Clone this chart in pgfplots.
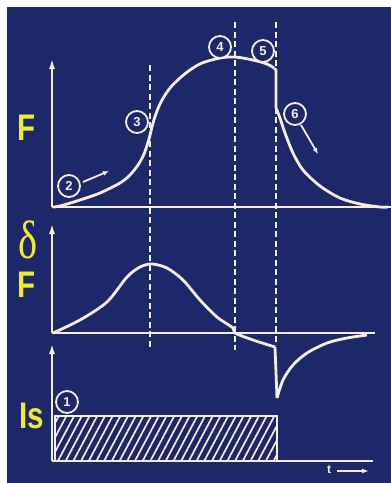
\documentclass[border=0pt]{standalone}
\usepackage{pgfplots}
\pgfplotsset{compat=1.18}
\usetikzlibrary{patterns.meta,arrows.meta}
\usepackage{fontspec}
\setmainfont{Liberation Sans}
\newfontfamily\greekfont{Liberation Serif}
\definecolor{slide}{RGB}{29,40,106}
\definecolor{chalk}{RGB}{246,238,226}
\definecolor{lab}{RGB}{240,236,40}

\pgfplotsset{
  panel/.style={
    scale only axis, anchor=south west, clip=false,
    axis x line*=bottom, axis y line*=left,
    xtick=\empty, ytick=\empty, xmin=0, ymin=0,
    axis line style={chalk, line width=2.8pt},
    y axis line style={-{Latex[length=11pt,width=6pt]}},
    every axis plot/.append style={chalk, line width=2.8pt, no marks},
  },
}
\tikzset{
  num/.style={circle, draw=chalk, fill=slide, line width=1.8pt, minimum size=22pt,
    inner sep=0pt, text=chalk, font=\bfseries\fontsize{13}{13}\selectfont},
  big/.style={text=lab, inner sep=0pt, font=\bfseries\fontsize{37}{37}\selectfont, xscale=0.8},
  marker/.style={chalk, line width=2.4pt, dash pattern=on 6pt off 3.5pt},
}

\begin{document}
\begin{tikzpicture}
\path[use as bounding box] (0,0) rectangle (391pt,-483pt);
\fill[white] (0,0) rectangle (391pt,-483pt);
\fill[slide] (7pt,-7pt) rectangle (391pt,-483pt);

% time markers
\draw[marker] (150pt,-65pt) -- (150pt,-350pt);
\draw[marker] (235pt,-22pt) -- (235pt,-350pt);
\draw[marker] (276pt,-22pt) -- (276pt,-345pt);

% F
\begin{axis}[panel, at={(52pt,-207pt)}, width=339pt, height=149pt, xmax=339, ymax=149]
\addplot[smooth] coordinates {(1,0)(8,1)(28,7)(48,14)(68,24)(78,32)(86,42)(92,53)(97,68)(101,84)(105,96)(110,107)(118,119)(128,129)(138,137)(150,144)(168,149)(183,150)(201,147)(215,143)(222,139)};
\addplot[sharp plot] coordinates {(222,139)(224,137)(224,99)};
\addplot[smooth] coordinates {(224,99)(228,89)(233,74)(241,54)(251,37)(268,21)(288,9)(308,3)(328,0)(336,0)};
\end{axis}

% delta F
\begin{axis}[panel, at={(52pt,-333pt)}, width=323pt, height=110pt, xmax=323, ymax=110]
\addplot[smooth] coordinates {(1,0)(28,13)(55,31)(75,56)(88,66)(100,69)(115,65)(131,53)(148,33)(165,16)(181,5)(183,0)(201,-7)(223,-14)};
\addplot[sharp plot] coordinates {(223,-14)(225,-65)};
\addplot[smooth] coordinates {(225,-65)(231,-47)(241,-32)(255,-20)(275,-10)(295,-5)(315,-2)};
\end{axis}

% Is
\begin{axis}[panel, at={(52pt,-461pt)}, width=321pt, height=118pt, xmax=321, ymax=118]
\addplot[line width=2.4pt, pattern={Lines[angle=62, distance=6.8pt, line width=1.7pt]}, pattern color=chalk]
  coordinates {(3,0)(3,45)(225,45)(225,0)} -- cycle;
\end{axis}

% labels
\node[big] at (27pt,-128pt) {F};
\node[text=lab, inner sep=0pt, font=\greekfont\fontsize{54}{54}\selectfont, xscale=0.75] at (28pt,-240pt) {δ};
\node[big] at (27pt,-285pt) {F};
\node[big] at (32pt,-416pt) {Is};

% step numbers
\node[num] at (67pt,-402pt) {1};
\node[num] at (69pt,-186pt) {2};
\node[num] at (137pt,-122pt) {3};
\node[num] at (220pt,-47pt) {4};
\node[num] at (263pt,-51pt) {5};
\node[num] at (295pt,-114pt) {6};
\draw[chalk, line width=1.8pt, -{Latex[length=6pt,width=5pt]}] (83pt,-182pt) -- (109pt,-171pt);
\draw[chalk, line width=1.8pt, -{Latex[length=6pt,width=5pt]}] (301pt,-125pt) -- (318pt,-154pt);

\node[text=chalk, font=\bfseries\fontsize{12}{12}\selectfont] at (329pt,-470pt) {t};
\draw[chalk, line width=2pt, -{Latex[length=7pt,width=5pt]}] (337pt,-471pt) -- (369pt,-471pt);
\end{tikzpicture}
\end{document}
